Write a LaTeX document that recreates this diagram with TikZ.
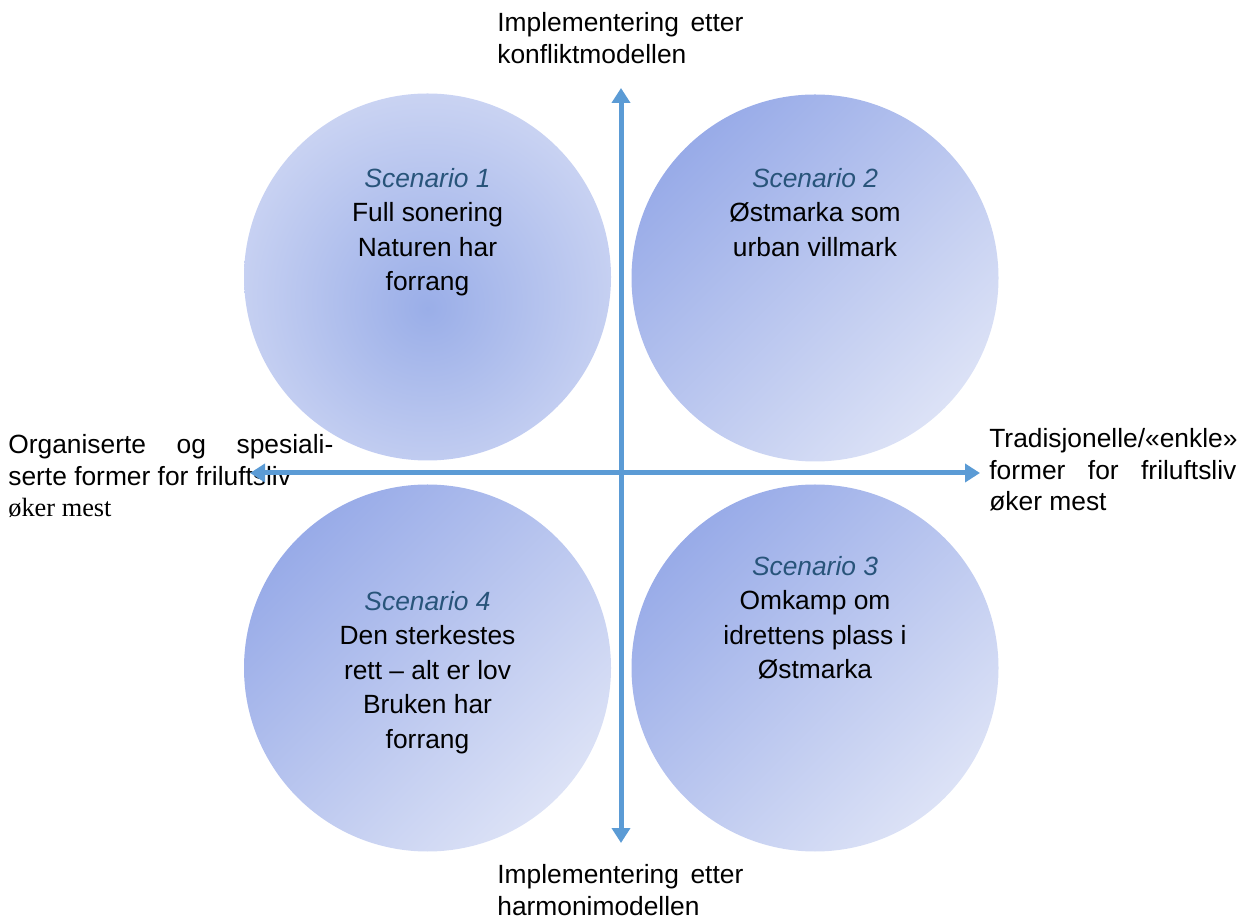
\documentclass[tikz,border=0pt]{standalone}
\usepackage{fontspec}
\setmainfont{Liberation Sans}
\newfontfamily\timesfont{Liberation Serif}
\usetikzlibrary{arrows.meta,positioning}
\definecolor{axisblue}{RGB}{91,155,213}
\definecolor{scenblue}{RGB}{40,84,122}
\definecolor{circdark}{RGB}{152,171,232}
\definecolor{circlight}{RGB}{220,226,246}
\definecolor{corecol}{RGB}{154,174,232}
\definecolor{rimcol}{RGB}{208,216,244}
\pgfdeclareradialshading{coreshade}{\pgfpoint{0bp}{-4.3bp}}{color(0bp)=(corecol); color(31bp)=(rimcol); color(60bp)=(rimcol)}

\begin{document}
\begin{tikzpicture}[>={Triangle[width=0.36cm,length=0.3cm]},
  axis/.style={draw=axisblue, line width=0.1cm, <->},
  scen/.style={circle, minimum size=7.34cm, inner sep=0pt},
  flat/.style={scen, top color=circdark, bottom color=circlight, shading angle=45},
  txt/.style={anchor=north, inner sep=0pt, align=center, font=\fontsize{15}{19.6}\selectfont},
  lab/.style={anchor=north west, inner sep=0pt, align=left, font=\fontsize{15}{18}\selectfont}]
  \useasboundingbox (0,0) rectangle (24.86,18.36);
  % circles
  \node[scen, shade, shading=coreshade] (s1) at (8.55,12.82) {};
  \node[flat] (s2) at (16.30,12.80) {};
  \node[flat] (s3) at (16.30,5.00) {};
  \node[flat] (s4) at (8.55,5.00) {};
  % scenario texts
  \node[txt] (t1) at ([yshift=2.18cm]s1.center) {\textcolor{scenblue}{\itshape Scenario 1}\\Full sonering\\Naturen har\\forrang};
  \node[txt] (t2) at ([yshift=2.20cm]s2.center) {\textcolor{scenblue}{\itshape Scenario 2}\\Østmarka som\\urban villmark};
  \node[txt] (t3) at ([yshift=2.24cm]s3.center) {\textcolor{scenblue}{\itshape Scenario 3}\\Omkamp om\\idrettens plass i\\Østmarka};
  \node[txt] (t4) at ([yshift=1.54cm]s4.center) {\textcolor{scenblue}{\itshape Scenario 4}\\Den sterkestes\\rett – alt er lov\\Bruken har\\forrang};
  % axis labels
  \node[lab] (up) at (9.94,18.12) {\makebox[4.92cm][s]{Implementering etter}\\konfliktmodellen};
  \node[lab] (down) at (9.94,1.08) {\makebox[4.92cm][s]{Implementering etter}\\harmonimodellen};
  \node[lab] (west) at (0.16,9.68) {\makebox[6.5cm][s]{Organiserte og spesiali-}\\serte former for friluftsliv\\{\timesfont øker mest}};
  \node[lab] (east) at (19.78,9.80) {Tradisjonelle/«enkle»\\\makebox[4.94cm][s]{former for friluftsliv}\\øker mest};
  % axes
  \coordinate (n) at (12.42,16.60);
  \coordinate (s) at (12.42,1.50);
  \coordinate (w) at (5.00,8.90);
  \coordinate (e) at (19.60,8.90);
  \draw[axis] (s) -- (n);
  \draw[axis] (w) -- (e);
\end{tikzpicture}
\end{document}
